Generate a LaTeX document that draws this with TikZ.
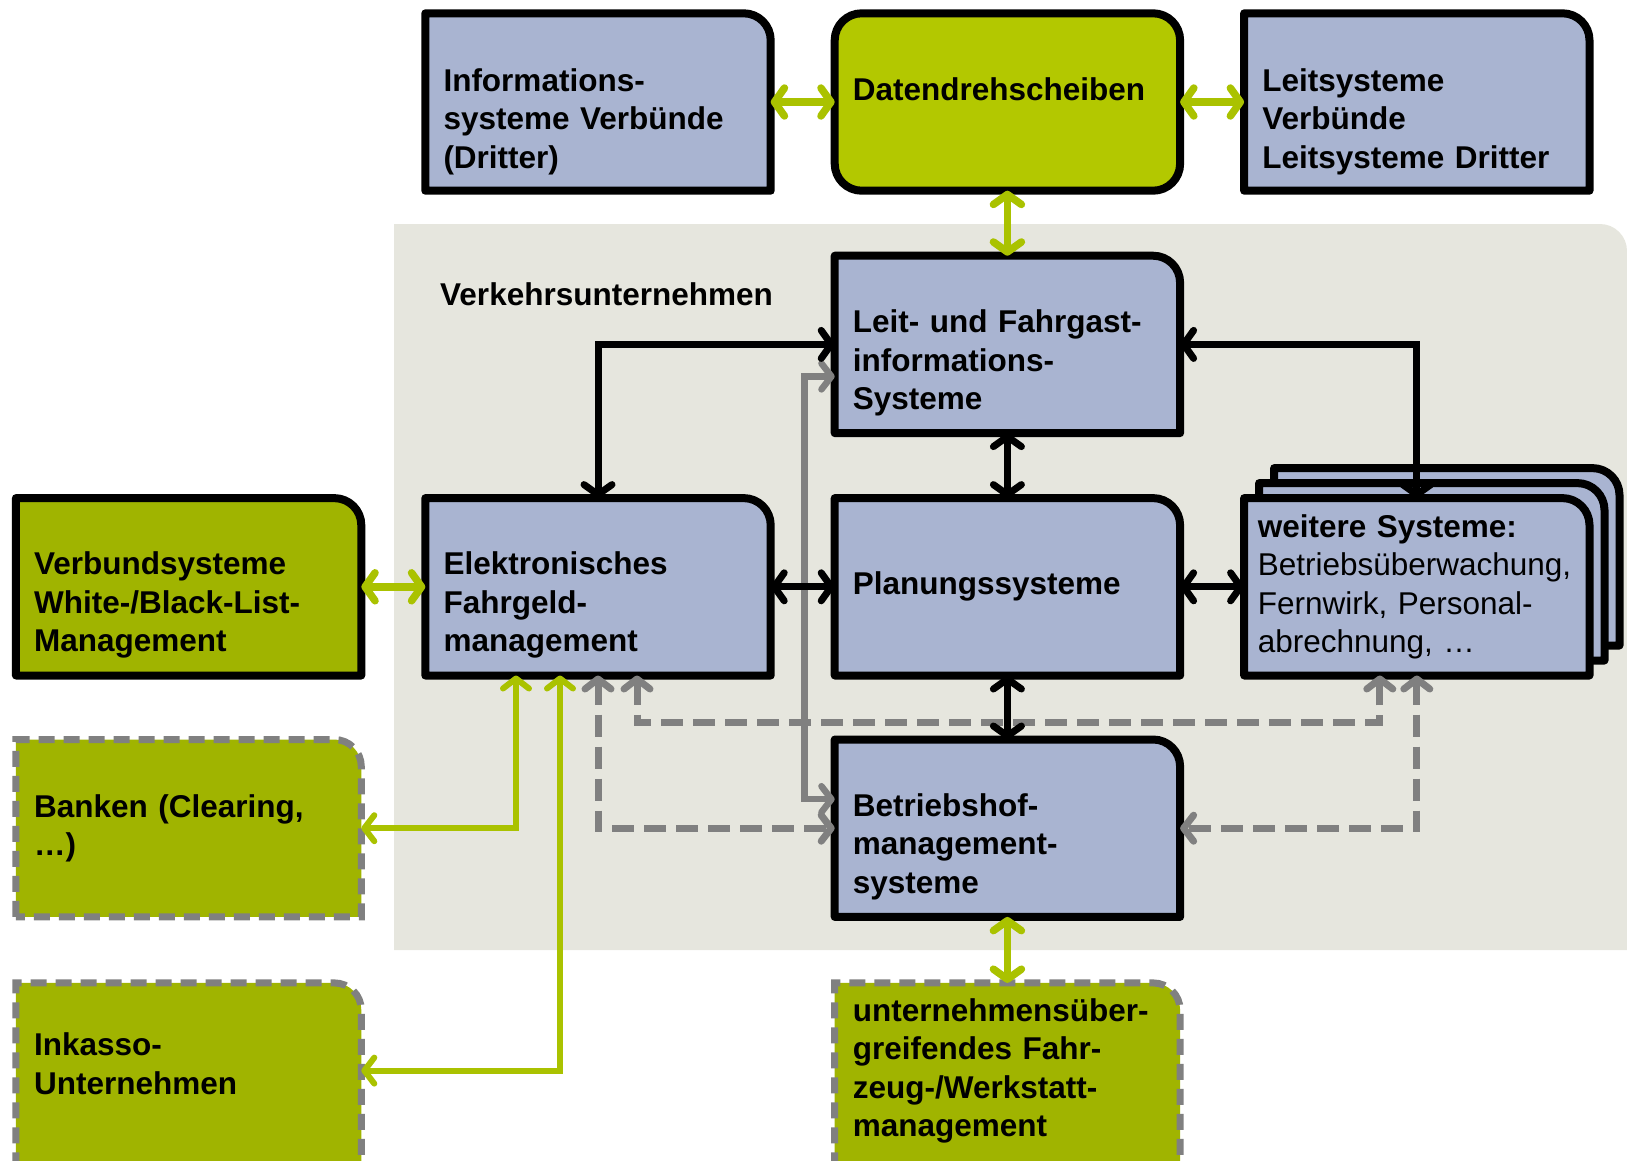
\documentclass[tikz,border=0pt]{standalone}
\usepackage{fontspec}
\setmainfont{Liberation Sans}
\usepackage{xcolor}
\usetikzlibrary{arrows.meta,positioning,calc,backgrounds}

\definecolor{sysblue}{RGB}{169,180,209}
\definecolor{hubgreen}{RGB}{179,200,0}
\definecolor{extgreen}{RGB}{160,180,0}
\definecolor{linkgreen}{RGB}{170,194,0}
\definecolor{panelgrey}{RGB}{230,230,222}
\definecolor{dashgrey}{RGB}{128,128,128}

\newcommand{\diagfont}{\fontsize{31.5}{38.5}\selectfont\bfseries}
% frame with one rounded corner (top right), optional offset for the stack
\newcommand{\tabframe}[3][0pt]{%
  \draw[#2] ([shift={(#1,#1)}]#3.south west) -- ([shift={(#1,#1)}]#3.north west)
    -- ([shift={(#1-27pt,#1)}]#3.north east) arc[start angle=90,end angle=0,radius=27pt]
    -- ([shift={(#1,#1)}]#3.south east) -- cycle;}

\begin{document}
\begin{tikzpicture}[
    x=1pt, y=-1pt,
    sysbox/.style={rectangle, minimum width=345pt, minimum height=177pt, inner xsep=18pt, inner ysep=0pt, text width=309pt, align=left, font=\diagfont},
    lowered/.style={execute at begin node={\rule{0pt}{#1}}},
    raised/.style={execute at end node={\rule[-#1]{0pt}{#1}}},
    bluebox/.style={fill=sysblue, draw=black, line width=8pt, line join=round},
    hubbox/.style={fill=hubgreen, draw=black, line width=8pt},
    greenbox/.style={fill=extgreen, draw=black, line width=8pt, line join=round},
    dashbox/.style={fill=extgreen, draw=dashgrey, line width=7pt, dash pattern=on 16pt off 9pt},
    blackarr/.style={line width=7pt, <->, >={Straight Barb[length=10pt,width=28pt,round]}},
    greenarr/.style={line width=7.5pt, linkgreen, <->, >={Straight Barb[length=10pt,width=28pt,round]}},
    greenline/.style={line width=6pt, linkgreen, <->, >={Straight Barb[length=10pt,width=26pt,round]}},
    greyarr/.style={line width=6.5pt, dashgrey, <->, >={Straight Barb[length=10pt,width=26pt,round]}},
    greydash/.style={greyarr, line width=7pt, dash pattern=on 22pt off 10pt}
]
\useasboundingbox (0,0) rectangle (1627,1160);

% top row
\node[sysbox, lowered=62pt] (info) at (598,102) {Informations-\\systeme Verbünde\\(Dritter)};
\node[sysbox, raised=26pt, right=64pt of info] (daten) {Datendrehscheiben};
\node[sysbox, lowered=62pt, right=64pt of daten] (leitsys) {Leitsysteme\\Verbünde\\Leitsysteme Dritter};

% Verkehrsunternehmen
\node[font=\diagfont, anchor=west, inner sep=0pt] (vu) at (440,294) {Verkehrsunternehmen};
\node[sysbox, lowered=60pt, below=65pt of daten] (leit) {Leit- und Fahrgast-\\informations-\\Systeme};
\node[sysbox, below=65pt of leit] (planung) {Planungssysteme};
\node[sysbox, lowered=60pt, left=64pt of planung] (fahrgeld) {Elektronisches\\Fahrgeld-\\management};
\node[sysbox, right=64pt of planung, inner xsep=13.5pt, text width=318pt] (weitere) {weitere Systeme:\\\mdseries Betriebsüberwachung,\\Fernwirk, Personal-\\abrechnung, …};
\node[sysbox, lowered=60pt, below=64pt of planung] (betrieb) {Betriebshof-\\management-\\systeme};

% external partners
\node[sysbox, lowered=60pt, left=64pt of fahrgeld] (verbund) {Verbundsysteme\\White-/Black-List-\\Management};
\node[sysbox] (banken) at (verbund |- betrieb) {Banken (Clearing,\\…)};
\node[sysbox, raised=16pt, minimum height=185pt, below=66pt of betrieb] (werkstatt) {unternehmensüber-\\greifendes Fahr-\\zeug-/Werkstatt-\\management};
\node[sysbox, raised=24pt, minimum height=185pt] (inkasso) at (verbund |- werkstatt) {Inkasso-\\Unternehmen};

% frames
\begin{scope}[on background layer]
  \fill[panelgrey] (394,950) -- (394,224) -- (1600,224) arc[start angle=90,end angle=0,radius=27pt] -- (1627,950) -- cycle;
  \tabframe{bluebox}{info}
  \draw[hubbox, rounded corners=27pt] (daten.south west) rectangle (daten.north east);
  \tabframe{bluebox}{leitsys}
  \tabframe{bluebox}{leit}
  \tabframe{bluebox}{fahrgeld}
  \tabframe{bluebox}{planung}
  \tabframe[30pt]{bluebox}{weitere}
  \tabframe[15pt]{bluebox}{weitere}
  \tabframe{bluebox}{weitere}
  \tabframe{bluebox}{betrieb}
  \tabframe{greenbox}{verbund}
  \tabframe{dashbox}{banken}
  \tabframe{dashbox}{inkasso}
  \tabframe{dashbox}{werkstatt}
\end{scope}

% green links
\draw[greenarr] (info) -- (daten);
\draw[greenarr] (daten) -- (leitsys);
\draw[greenarr] (daten) -- (leit);
\draw[greenarr] (verbund) -- (fahrgeld);
\draw[greenarr] (betrieb) -- (werkstatt);
\draw[greenline] ([xshift=-82pt]fahrgeld.south) |- (banken.east);
\draw[greenline] ([xshift=-38pt]fahrgeld.south) |- ([yshift=5pt]inkasso.east);

% grey links
\draw[greydash] (fahrgeld.south) |- (betrieb.west);
\draw[greydash] ([xshift=39pt]fahrgeld.south) -- ++(0,47) -| ([xshift=-37pt]weitere.south);
\draw[greydash] (weitere.south) |- (betrieb.east);
\draw[greyarr] ([yshift=29pt]betrieb.west) -- ++(-30,0) |- ([yshift=-32pt]leit.west);

% black links
\draw[blackarr] (fahrgeld.north) |- (leit.west);
\draw[blackarr] (leit.east) -| (weitere.north);
\draw[blackarr] (leit) -- (planung);
\draw[blackarr] (planung) -- (betrieb);
\draw[blackarr] (fahrgeld) -- (planung);
\draw[blackarr] (planung) -- (weitere);

\end{tikzpicture}
\end{document}
